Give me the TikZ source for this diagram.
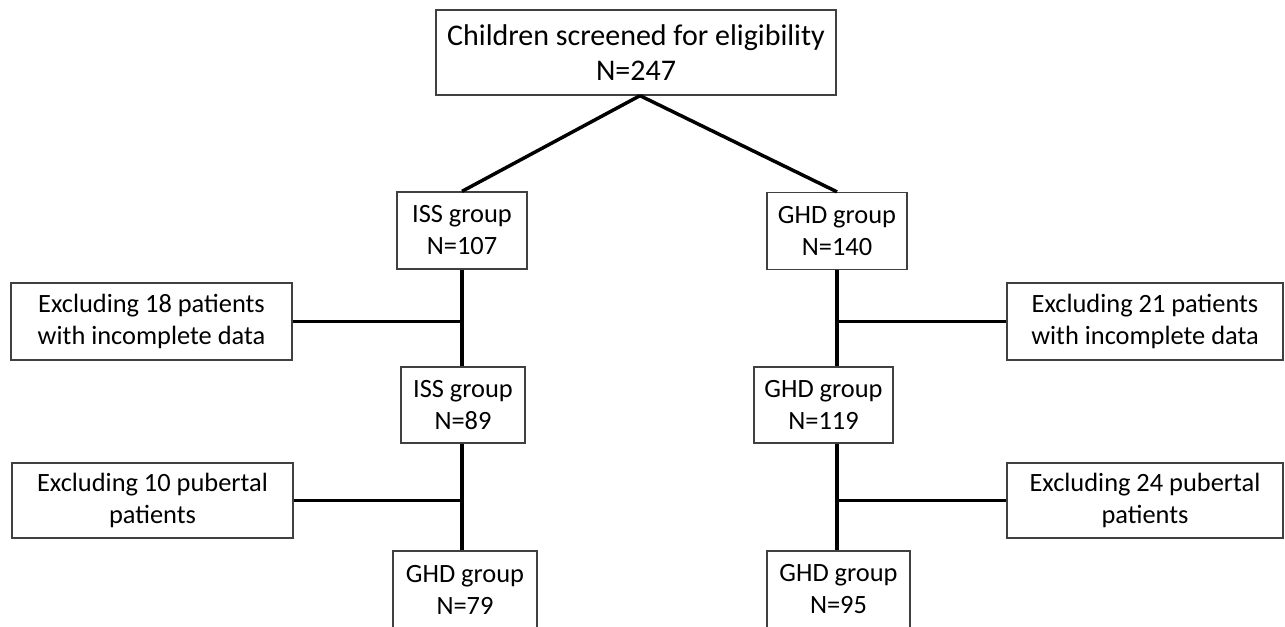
\documentclass[tikz,border=0pt]{standalone}
\usepackage{fontspec}
\setmainfont{Carlito}
\usetikzlibrary{positioning,calc}

\begin{document}
\begin{tikzpicture}[
        x=0.75pt, y=-0.75pt,
        box/.style={draw=black!75, line width=1pt, fill=white, align=center,
          inner sep=0pt, font=\fontsize{19.8}{24}\selectfont},
        link/.style={line width=2.6pt, black}
      ]
        \clip (0,0) rectangle (1285,627);
        \node[box, minimum width=300pt, minimum height=63.75pt, font=\fontsize{22.5}{26}\selectfont] (screen) at (636,52.5) {Children screened for eligibility\\N=247};
        \node[box, minimum width=97.5pt, minimum height=57.75pt] (iss107) at (462,230.5) {ISS group\\N=107};
        \node[box, minimum width=105pt, minimum height=57.75pt] (ghd140) at (837,231) {GHD group\\N=140};
        \node[box, minimum width=210.75pt, minimum height=57.75pt] (exl1) at (151.5,321.5) {Excluding 18 patients\\with incomplete data};
        \node[box, minimum width=207pt, minimum height=57.75pt] (exr1) at (1145,321.5) {Excluding 21 patients\\with incomplete data};
        \node[box, minimum width=93pt, minimum height=57pt] (iss89) at (463,405) {ISS group\\N=89};
        \node[box, minimum width=104.25pt, minimum height=57pt] (ghd119) at (823.5,405) {GHD group\\N=119};
        \node[box, minimum width=210.75pt, minimum height=56.25pt] (exl2) at (152.5,500.5) {Excluding 10 pubertal\\patients};
        \node[box, minimum width=207pt, minimum height=56.25pt] (exr2) at (1145,500.5) {Excluding 24 pubertal\\patients};
        \node[box, minimum width=108pt, minimum height=57.75pt] (ghd79) at (465,589.5) {GHD group\\N=79};
        \node[box, minimum width=107.25pt, minimum height=57.75pt] (ghd95) at (838.5,589.5) {GHD group\\N=95};
        % split from the screening box
        \draw[link] ($(screen.south)+(4,0)$) -- (iss107.north);
        \draw[link] ($(screen.south)+(4,0)$) -- (ghd140.north);
        % left branch
        \draw[link] (iss107.south) -- (iss107.south |- iss89.north);
        \draw[link] (iss107.south |- iss89.south) -- (iss107.south |- ghd79.north);
        \draw[link] (exl1.east) -- (exl1.east -| iss107.south);
        \draw[link] (exl2.east) -- (exl2.east -| iss107.south);
        % right branch
        \draw[link] (ghd140.south) -- (ghd140.south |- ghd119.north);
        \draw[link] (ghd140.south |- ghd119.south) -- (ghd140.south |- ghd95.north);
        \draw[link] (exr1.west) -- (exr1.west -| ghd140.south);
        \draw[link] (exr2.west) -- (exr2.west -| ghd140.south);
      \end{tikzpicture}
\end{document}
